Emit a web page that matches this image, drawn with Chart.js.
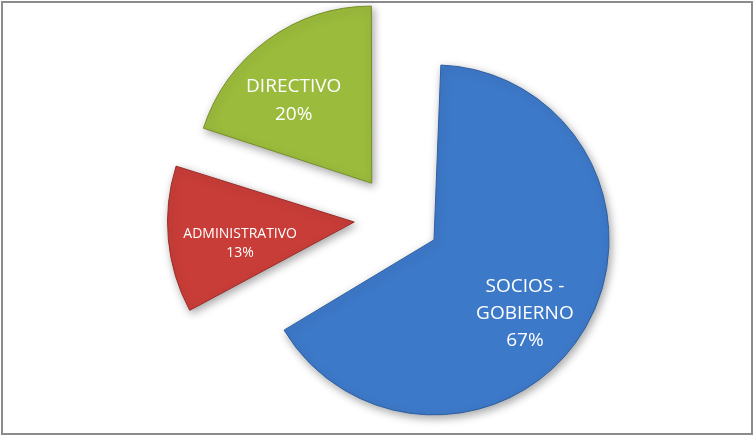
<!DOCTYPE html>
<html>
<head>
<meta charset="utf-8">
<script src="https://cdn.jsdelivr.net/npm/chart.js@4/dist/chart.umd.min.js"></script>
<style>
html,body{margin:0;padding:0;background:#fff;}
#wrap{position:relative;width:754px;height:437px;}
</style>
</head>
<body>
<div id="wrap"><canvas id="c" width="754" height="437"></canvas></div>
<script>
const categories = ["SOCIOS - GOBIERNO", "ADMINISTRATIVO", "DIRECTIVO"];
const labelLines = [["SOCIOS -", "GOBIERNO"], ["ADMINISTRATIVO"], ["DIRECTIVO"]];
const values = [67, 13, 20];
const colors = ["#3d79c9", "#c93d38", "#9bbb3c"];
const borderColors = ["#2f5f9f", "#9a2c29", "#76902c"];

const SHIFT = 43; // explode distance in px (Chart.js translates by offset/4)

const framePlugin = {
  id: 'frame',
  afterDatasetUpdate(chart, args) {
    // Chart.js enlarges only arcs >= 180deg by the offset; make all slices equal radius
    const meta = args.meta;
    const base = meta.controller.outerRadius;
    meta.data.forEach(el => {
      el.outerRadius = el.circumference >= Math.PI ? base : base + SHIFT;
    });
  },
  beforeDraw(chart) {
    const ctx = chart.ctx;
    ctx.save();
    ctx.fillStyle = '#fff';
    ctx.fillRect(0, 0, chart.width, chart.height);
    ctx.strokeStyle = '#8c8c8c';
    ctx.lineWidth = 2;
    ctx.strokeRect(2, 2, 750, 432);
    ctx.restore();
  },
  beforeDatasetsDraw(chart) {
    const ctx = chart.ctx;
    ctx.save();
    ctx.shadowColor = 'rgba(0,0,0,0.35)';
    ctx.shadowBlur = 8;
    ctx.shadowOffsetX = 2;
    ctx.shadowOffsetY = 3;
  },
  afterDatasetsDraw(chart) {
    chart.ctx.restore();
  }
};

const labelPlugin = {
  id: 'sliceLabels',
  afterDraw(chart) {
    const ctx = chart.ctx;
    const meta = chart.getDatasetMeta(0);
    const total = values.reduce((a, b) => a + b, 0);
    const sizes = [19, 14, 19];
    const gaps = [27, 19, 28];
    const dist = [117, 116, 114];
    const frac = [0.535, 0.39, 0.40];
    meta.data.forEach((arc, i) => {
      const p = arc.getProps(['x', 'y', 'startAngle', 'endAngle'], true);
      const mid = (p.startAngle + p.endAngle) / 2;
      const ax = p.x + Math.cos(mid) * SHIFT;
      const ay = p.y + Math.sin(mid) * SHIFT;
      const a = p.startAngle + frac[i] * (p.endAngle - p.startAngle);
      const cx = ax + Math.cos(a) * dist[i];
      const cy = ay + Math.sin(a) * dist[i];
      const lines = labelLines[i].concat([Math.round(values[i] / total * 100) + '%']);
      ctx.save();
      ctx.fillStyle = '#ffffff';
      ctx.font = sizes[i] + 'px "Open Sans", Lato, sans-serif';
      ctx.textAlign = 'center';
      ctx.textBaseline = 'middle';
      const h = (lines.length - 1) * gaps[i];
      lines.forEach((t, k) => ctx.fillText(t, cx, cy - h / 2 + k * gaps[i]));
      ctx.restore();
    });
  }
};

new Chart(document.getElementById('c'), {
  type: 'pie',
  data: {
    labels: categories,
    datasets: [{
      data: values,
      backgroundColor: colors,
      borderColor: borderColors,
      borderWidth: 1,
      offset: SHIFT * 4,
      hoverOffset: 0
    }]
  },
  options: {
    responsive: false,
    animation: false,
    radius: 132,
    layout: { padding: { left: 40, right: 0, top: 0, bottom: 1 } },
    plugins: {
      legend: { display: false },
      tooltip: { enabled: false }
    }
  },
  plugins: [framePlugin, labelPlugin]
});
</script>
</body>
</html>
